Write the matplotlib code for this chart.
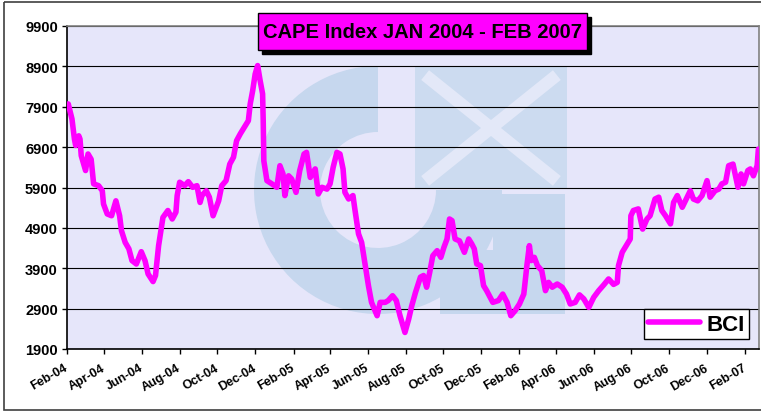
import pandas as pd
import numpy as np
import matplotlib
matplotlib.use('Agg')
import matplotlib.pyplot as plt
import matplotlib.dates as mdates
import matplotlib.patches as mpatches
import matplotlib.transforms as mtransforms

plt.rcParams['font.family'] = ['Liberation Sans', 'DejaVu Sans']
plt.rcParams['font.weight'] = 'bold'

# BCI (Baltic Capesize Index): days after 1 Feb 2004 and index level
start_date = pd.Timestamp('2004-02-01')
end_date = pd.Timestamp('2007-02-23')

day_offsets = [
    2, 8, 12, 14, 19, 21, 23, 30, 34, 39,
    43, 51, 57, 59, 65, 72, 79, 85, 88, 94,
    100, 105, 112, 120, 126, 131, 139, 143, 148, 155,
    163, 170, 176, 178, 182, 190, 196, 203, 210, 215,
    218, 225, 230, 236, 245, 250, 257, 263, 269, 274,
    280, 288, 293, 296, 300, 304, 308, 312, 316, 317,
    318, 323, 331, 339, 344, 349, 352, 358, 363, 370,
    376, 383, 387, 393, 401, 406, 412, 420, 425, 430,
    436, 441, 446, 449, 455, 462, 465, 471, 476, 482,
    487, 492, 501, 506, 514, 519, 526, 532, 538, 546,
    552, 557, 563, 571, 576, 581, 586, 591, 598, 604,
    609, 614, 618, 622, 627, 634, 642, 649, 654, 658,
    662, 668, 673, 678, 688, 697, 704, 711, 717, 724,
    731, 738, 743, 747, 750, 755, 760, 767, 773, 778,
    784, 792, 800, 807, 813, 821, 828, 835, 843, 851,
    859, 867, 875, 883, 889, 891, 897, 905, 910, 911,
    915, 923, 930, 937, 942, 950, 956, 961, 967, 975,
    980, 986, 994, 999, 1007, 1012, 1019, 1026, 1034, 1039,
    1047, 1053, 1058, 1064, 1069, 1076, 1080, 1084, 1089, 1093,
    1100, 1104, 1109, 1115, 1117,
]

bci_values = [
    7970, 7600, 7100, 6940, 7180, 7100, 6690, 6320, 6730, 6600,
    5990, 5945, 5820, 5490, 5245, 5200, 5570, 5200, 4830, 4540,
    4380, 4090, 4005, 4310, 4090, 3760, 3570, 3720, 4460, 5160,
    5330, 5120, 5290, 5700, 6030, 5945, 6045, 5905, 5945, 5530,
    5700, 5820, 5660, 5200, 5570, 5945, 6070, 6480, 6650, 7060,
    7230, 7430, 7555, 7970, 8300, 8710, 8920, 8550, 8220, 7555,
    6560, 6070, 5990, 5905, 6440, 6235, 5700, 6190, 6110, 5780,
    6320, 6730, 6770, 6150, 6360, 5740, 5905, 5860, 5990, 6400,
    6770, 6730, 6360, 5780, 5615, 5700, 5370, 4750, 4540, 3960,
    3470, 3055, 2725, 3055, 3055, 3100, 3220, 3100, 2725, 2310,
    2640, 2970, 3300, 3680, 3720, 3430, 3800, 4210, 4335, 4170,
    4420, 4625, 5120, 5080, 4625, 4580, 4295, 4625, 4500, 4380,
    4005, 3965, 3470, 3345, 3055, 3100, 3260, 3055, 2725, 2850,
    3015, 3260, 3965, 4460, 4090, 4170, 3965, 3840, 3345, 3550,
    3430, 3510, 3430, 3260, 3015, 3055, 3240, 3140, 2930, 3180,
    3345, 3485, 3635, 3500, 3550, 3965, 4295, 4500, 4625, 5200,
    5330, 5370, 4870, 5120, 5200, 5615, 5660, 5330, 5200, 5000,
    5530, 5700, 5410, 5570, 5820, 5615, 5570, 5700, 6070, 5660,
    5820, 5860, 5990, 6030, 6440, 6480, 6190, 5905, 6235, 5990,
    6320, 6360, 6190, 6440, 6850,
]

y_ticks = [1900, 2900, 3900, 4900, 5900, 6900, 7900, 8900, 9900]
series_name = 'BCI'
title_text = 'CAPE Index JAN 2004 - FEB 2007'

dates = start_date + pd.to_timedelta(day_offsets, unit='D')

W, H = 761, 414
fig = plt.figure(figsize=(W / 100, H / 100), dpi=100)
ax = fig.add_axes([67 / W, 1 - 350 / H, (759 - 67) / W, (350 - 27) / H])
ax.set_facecolor('#E6E6FA')

# pixel coordinates (y down) for the decorations
px = mtransforms.Affine2D().scale(1, -1).translate(0, H)

# faint logo watermark behind the data (opaque pale colours so overlaps do not darken)
wm = '#C6D7EE'
for patch in [
    mpatches.Wedge((378, 191), 124, 0, 270, width=66),
    mpatches.Rectangle((440, 251), 125, 64),
    mpatches.Rectangle((493, 195), 72, 56),
]:
    patch.set(transform=px, facecolor=wm, edgecolor='none', zorder=0.8)
    ax.add_patch(patch)
ax.add_patch(mpatches.Rectangle((415, 68), 152, 122, transform=px,
                                facecolor='#CCDBF0', edgecolor='none', zorder=0.8))
for (x0, y0, x1, y1) in [(430, 80, 552, 178), (552, 80, 430, 178)]:
    ax.add_line(plt.Line2D([x0, x1], [y0, y1], transform=px, color='#E3E8F8',
                           lw=9, zorder=0.85))

ax.plot(dates, bci_values, color='#FF00FF', lw=4, solid_joinstyle='round',
        solid_capstyle='round', label=series_name, zorder=3)

ax.set_xlim(start_date, end_date)
ax.set_ylim(y_ticks[0], y_ticks[-1])
ax.set_yticks(y_ticks)
ax.yaxis.grid(True, color='black', lw=0.8)
ax.xaxis.set_major_locator(mdates.MonthLocator(bymonth=(2, 4, 6, 8, 10, 12)))
ax.xaxis.set_major_formatter(mdates.DateFormatter('%b-%y'))

ax.tick_params(axis='both', direction='out', length=3.6, width=1, color='black')
ax.tick_params(axis='y', labelsize=10.5, pad=3)
ax.tick_params(axis='x', labelsize=9, pad=9)
for lab in ax.get_xticklabels():
    lab.set_rotation(30)
    lab.set_ha('right')
    lab.set_va('center')
    lab.set_rotation_mode('anchor')
    lab.set_fontweight('bold')
for lab in ax.get_yticklabels():
    lab.set_fontweight('bold')

ax.spines['left'].set_color('black')
ax.spines['bottom'].set_color('black')
ax.spines['left'].set_linewidth(1.2)
ax.spines['bottom'].set_linewidth(1.2)
ax.spines['top'].set_color('#808080')
ax.spines['right'].set_color('#808080')
ax.spines['top'].set_linewidth(1.2)
ax.spines['right'].set_linewidth(1.2)

leg = ax.legend(loc='lower right', bbox_to_anchor=(0.9855, 0.031), frameon=True,
                fancybox=False, edgecolor='black', framealpha=1,
                prop=dict(weight='bold', size=16), handlelength=2.3,
                handletextpad=0.3, borderpad=0.2, borderaxespad=0)
leg.get_frame().set_linewidth(1)

# title box with drop shadow
fig.add_artist(mpatches.Rectangle((262, 18), 329, 37, transform=px,
                                  facecolor='black', edgecolor='black', zorder=5))
fig.add_artist(mpatches.Rectangle((258, 14), 329, 37, transform=px,
                                  facecolor='#FF00FF', edgecolor='black', lw=1, zorder=6))
fig.text(422.5 / W, 1 - 33 / H, title_text, ha='center', va='center',
         fontsize=14.5, fontweight='bold', color='black', zorder=7)

# outer chart border
fig.add_artist(mpatches.Rectangle((4, 3), 760, 408, transform=px, fill=False,
                                  edgecolor='#404040', lw=1.2, zorder=8))

fig.savefig('out.png', dpi=100)
